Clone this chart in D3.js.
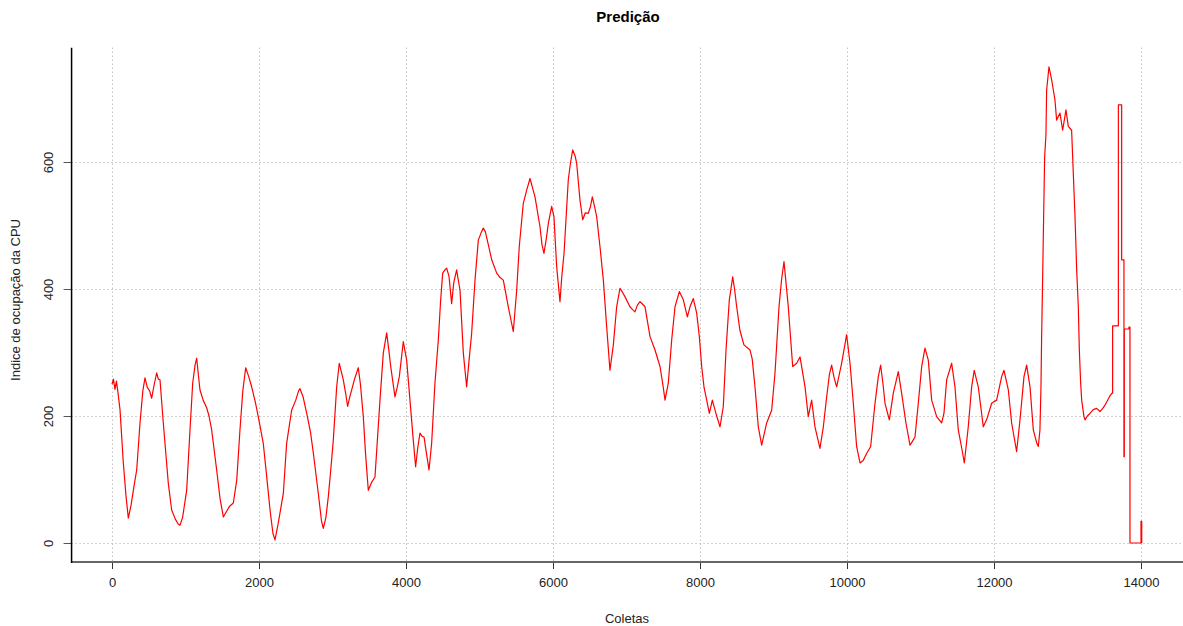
<!DOCTYPE html>
<html>
<head>
<meta charset="utf-8">
<script src="https://cdn.jsdelivr.net/npm/d3@7"></script>
<style>
  html, body { margin: 0; padding: 0; background: #fff; }
  svg { display: block; font-family: "Liberation Sans", Arial, sans-serif; }
</style>
</head>
<body>
<svg id="chart" width="1183" height="626"></svg>
<script>
// ---- data ----
const titleText = "Predição";
const xLabel = "Coletas";
const yLabel = "Indice de ocupação da CPU";
const xTicks = [0, 2000, 4000, 6000, 8000, 10000, 12000, 14000];
const yTicks = [0, 200, 400, 600];

const coletas = [
  0,20,40,60,80,109,154,190,222,260,300,336,381,420,449,480,510,540,575,608,630,653,698,766,812,860,900,925,960,
  1016,1061,1098,1130,1152,1175,1197,1240,1288,1320,1356,1424,1470,1515,1550,1600,1651,1697,1741,1780,1819,1860,1900,1950,1990,
  2058,2100,2150,2190,2218,2260,2331,2376,2444,2500,2540,2558,2600,2649,2700,2740,2807,2850,2875,2910,2943,2980,
  3011,3057,3092,3120,3147,3180,3206,3235,3261,3300,3351,3380,3419,3450,3487,3530,3578,3646,3691,3737,3765,3792,3850,3880,3909,3963,
  4009,4054,4099,4131,4160,4190,4220,4245,4280,4313,4349,4394,4440,4470,4499,4530,4553,4585,4621,4650,4689,4710,4735,4780,4825,4860,4893,4939,4984,
  5020,5052,5080,5106,5166,5234,5280,5324,5392,5430,5460,5506,5541,5596,5640,5687,5720,5755,5823,5850,5877,5910,5936,5982,
  6013,6050,6095,6120,6150,6208,6240,6268,6300,6322,6367,6404,6440,6480,6510,6535,6565,6594,6639,6685,6730,6775,6821,6866,6911,6945,6979,
  7047,7080,7115,7150,7184,7220,7252,7320,7388,7456,7500,7524,7569,7615,7660,7719,7773,7828,7864,7909,7955,7991,
  8023,8054,8091,8127,8168,8217,8272,8317,8354,8399,8445,8470,8499,8543,8598,8680,8710,8748,8793,8839,8870,8907,8975,
  9020,9075,9110,9143,9170,9201,9261,9315,9361,9429,9473,9519,9564,9600,9632,9678,9723,9760,9791,9825,9859,9927,9960,9995,
  10041,10086,10131,10177,10220,10267,10322,10381,10426,10458,10490,10517,10576,10630,10698,10743,10802,10857,10890,10925,10970,
  11016,11061,11106,11152,11220,11288,11319,11356,11424,11469,11514,11560,11596,11650,11696,11731,11786,11854,11899,11968,
  12036,12104,12136,12195,12240,12308,12354,12408,12444,12490,12535,12580,12603,12625,12639,12648,12662,12676,12689,12707,12716,12748,12785,12829,12852,12898,12934,12979,
  13011,13056,13079,13102,13125,13147,13161,13179,13193,13224,13238,13270,13306,13350,13397,13442,13480,13510,13569,13605,
  13614,13614,13692,13692,13737,13737,13768,13768,13773,13773,13836,13836,13850,13850,14000,14000,14010,14010
];
const ocupacao = [
  250,258,242,255,238,210,126,75,39,60,90,115,189,240,260,245,240,228,250,268,258,257,189,94,52,38,30,28,40,
  83,178,252,280,291,265,241,225,213,200,178,115,70,41,48,58,63,99,178,240,276,262,246,222,199,
  157,110,52,15,5,30,78,157,209,225,240,243,230,204,175,141,78,35,23,40,73,120,
  162,246,283,270,257,235,215,230,241,258,276,250,199,140,83,95,104,225,299,331,305,278,230,245,262,317,
  288,225,162,120,150,173,168,167,140,115,157,252,320,380,425,430,433,420,377,410,430,415,398,299,246,290,330,414,477,
  488,496,490,477,446,425,418,414,372,350,333,398,467,535,555,574,560,545,498,470,456,480,503,530,
  514,435,380,420,456,572,600,619,610,598,540,509,520,519,530,545,530,514,467,414,341,272,312,372,401,395,388,
  372,368,364,375,380,376,372,325,304,278,245,225,252,320,372,396,383,356,372,385,362,325,
  278,246,225,204,225,204,183,215,304,383,419,400,372,335,312,304,290,246,183,154,170,189,209,
  267,372,415,443,410,372,278,283,293,246,199,225,183,165,149,183,230,265,280,260,246,283,305,328,
  283,220,152,126,130,141,152,220,262,280,250,220,194,236,270,236,189,154,160,167,220,
  278,307,288,225,199,189,204,257,283,246,178,150,126,183,246,272,246,183,194,220,
  225,262,272,241,189,144,194,262,280,246,178,158,152,178,246,325,419,519,608,643,713,750,729,698,666,677,650,682,
  656,650,582,514,430,372,304,252,225,199,194,200,204,210,212,207,212,217,230,236,
  236,342,342,690,690,446,446,136,136,337,337,340,340,0,0,34,34,0
];

// ---- layout ----
const W = 1183, H = 626;
const svg = d3.select("#chart");

const x = d3.scaleLinear().domain([0, 14000]).range([112, 1141]);
const y = d3.scaleLinear().domain([0, 600]).range([543, 162]);

const plotLeft = x(-550), plotRight = W;
const plotTop = y(780), plotBottom = y(-30);

// clip to plot region
svg.append("defs").append("clipPath").attr("id", "clip")
  .append("rect").attr("x", plotLeft).attr("y", plotTop)
  .attr("width", plotRight - plotLeft).attr("height", plotBottom - plotTop);

// grid
const grid = svg.append("g").attr("stroke", "#a6a6a6").attr("stroke-width", 1)
  .attr("stroke-dasharray", "1,3");
grid.selectAll("line.vx").data(xTicks).join("line")
  .attr("x1", d => Math.round(x(d)) + 0.5).attr("x2", d => Math.round(x(d)) + 0.5)
  .attr("y1", plotTop).attr("y2", plotBottom);
grid.selectAll("line.hy").data(yTicks).join("line")
  .attr("y1", d => Math.round(y(d)) + 0.5).attr("y2", d => Math.round(y(d)) + 0.5)
  .attr("x1", plotLeft).attr("x2", plotRight);

// series line
const pts = coletas.map((c, i) => [c, ocupacao[i]]);
const line = d3.line().x(d => x(d[0])).y(d => y(d[1]));
svg.append("path").datum(pts)
  .attr("clip-path", "url(#clip)")
  .attr("fill", "none").attr("stroke", "#ff0000")
  .attr("stroke-width", 1.2).attr("stroke-linejoin", "round")
  .attr("d", line);

// x axis
const xAxis = d3.axisBottom(x).tickValues(xTicks).tickSize(7).tickPadding(9)
  .tickFormat(d3.format("d"));
const gx = svg.append("g").attr("transform", `translate(0,${plotBottom})`).call(xAxis);
gx.select(".domain").remove();
gx.selectAll(".tick line").attr("stroke", "#333");
gx.selectAll(".tick text").attr("font-size", 13).attr("fill", "#222")
  .attr("font-family", "Liberation Sans, Arial, sans-serif");
svg.append("line").attr("x1", plotLeft).attr("x2", plotRight)
  .attr("y1", plotBottom).attr("y2", plotBottom)
  .attr("stroke", "#666").attr("stroke-width", 2);

// y axis
const yAxis = d3.axisLeft(y).tickValues(yTicks).tickSize(8).tickFormat(d3.format("d"));
const gy = svg.append("g").attr("transform", `translate(${plotLeft},0)`).call(yAxis);
gy.select(".domain").remove();
gy.selectAll(".tick line").attr("stroke", "#555");
gy.selectAll(".tick text")
  .attr("font-size", 13).attr("fill", "#222")
  .attr("font-family", "Liberation Sans, Arial, sans-serif")
  .attr("x", null).attr("dy", null)
  .attr("text-anchor", "middle")
  .attr("transform", `translate(-19,0) rotate(-90)`)
  .attr("y", 0);
svg.append("line").attr("x1", plotLeft).attr("x2", plotLeft)
  .attr("y1", plotTop).attr("y2", plotBottom + 1)
  .attr("stroke", "#000").attr("stroke-width", 1.5);

// titles
svg.append("text").attr("x", 628).attr("y", 22).attr("text-anchor", "middle")
  .attr("font-size", 15).attr("font-weight", "bold").attr("fill", "#000")
  .text(titleText);
svg.append("text").attr("x", 627).attr("y", 623).attr("text-anchor", "middle")
  .attr("font-size", 13).attr("fill", "#222").text(xLabel);
svg.append("text").attr("transform", `translate(20,300) rotate(-90)`)
  .attr("text-anchor", "middle").attr("font-size", 13).attr("fill", "#222")
  .text(yLabel);
</script>
</body>
</html>
